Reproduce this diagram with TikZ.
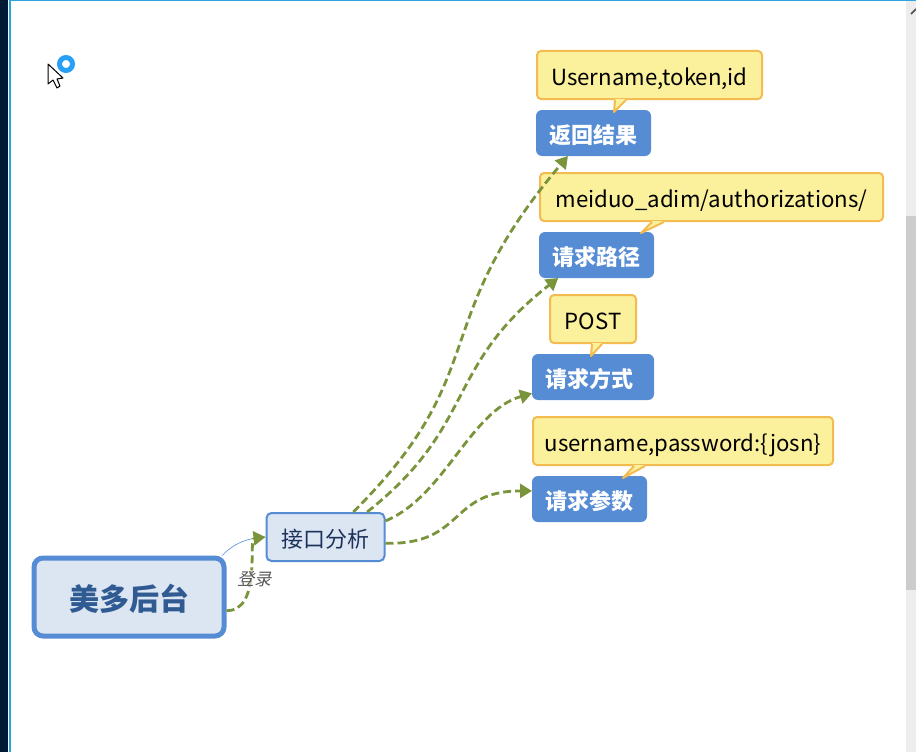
\documentclass[tikz,border=0pt]{standalone}
\usepackage{fontspec}
\usepackage{tikz}
\usetikzlibrary{
    positioning,
    arrows.meta,
    calc
}
\setmainfont{Noto Sans CJK SC}
\newfontfamily\cjk{Noto Sans CJK SC}
\newfontfamily\cjkslant[FakeSlant=0.25]{Noto Sans CJK SC}
\definecolor{mapBlue}{RGB}{86, 140, 212}
\definecolor{mapPale}{RGB}{220, 230, 243}
\definecolor{mapInk}{RGB}{47, 90, 146}
\definecolor{mapDark}{RGB}{28, 50, 90}
\definecolor{linkGreen}{RGB}{122, 148, 60}
\definecolor{noteFill}{RGB}{251, 240, 155}
\definecolor{noteLine}{RGB}{243, 187, 80}
\definecolor{winBlue}{RGB}{42, 166, 224}
\definecolor{winDark}{RGB}{0, 26, 51}
\definecolor{busyBlue}{RGB}{40, 160, 245}
\tikzset{
    rootbox/.style={draw=mapBlue, fill=mapPale, line width=5pt, rounded corners=9pt, minimum width=190pt, minimum height=78pt, inner sep=0pt, outer sep=2.5pt, text=mapInk, text height=27pt, text depth=0pt, font=\cjk\fontsize{30}{34}\selectfont\bfseries},
    apibox/.style={draw=mapBlue, fill=mapPale, line width=2pt, rounded corners=5pt, minimum width=118pt, minimum height=48pt, inner sep=0pt, outer sep=1pt, text=mapDark, text height=21pt, text depth=0pt, font=\cjk\fontsize{22}{26}\selectfont},
    leafbox/.style={fill=mapBlue, rounded corners=6pt, minimum height=46pt, inner sep=0pt, outer sep=0pt, text=white, text height=21.5pt, text depth=0pt, font=\cjk\fontsize{22}{26}\selectfont\bfseries},
    notebox/.style={draw=noteLine, fill=noteFill, line width=2pt, rounded corners=4pt, minimum height=48pt, inner sep=0pt, text=black, text height=20pt, text depth=0pt, font=\fontsize{22.2}{26}\selectfont},
    link/.style={-{Triangle[length=12pt,width=14pt]}, linkGreen, line width=2.8pt, dash pattern=on 8pt off 4pt}
}
\begin{document}
\begin{tikzpicture}[x=1pt,y=-1pt]
    \useasboundingbox (0,0) rectangle (916,752);
    % window frame
    \fill[winDark] (0,0) rectangle (8,752);
    \fill[winBlue] (9,0) rectangle (11,752);
    \fill[winBlue] (9,0) rectangle (916,1.5);
    \fill[black!7] (906,1.5) rectangle (916,752);
    \fill[black!20] (906,216) rectangle (916,590);
    \draw[black!70, line width=1.5pt] (911,14) -- (916,9);

    % busy cursor
    \draw[fill=white, line width=1pt, draw=black, line join=round] (48,64) -- (48,84) -- (53,80) -- (57,88) -- (60,86) -- (57,79) -- (63,78) -- cycle;
    \draw[line width=5pt, busyBlue] (66,64) circle (6.5);

    \node[rootbox] (root) at (129,597) {美多后台};
    \node[apibox] (api) at (325.5,537) {接口分析};

    \node[leafbox, minimum width=115pt] (result) at (593.5,133) {返回结果};
    \node[leafbox, minimum width=115pt] (path) at (596.5,255) {请求路径};
    \node[leafbox, minimum width=122pt] (method) at (593,377) {请求方式\hspace{8pt}\null};
    \node[leafbox, minimum width=115pt] (param) at (589.5,499) {请求参数};

    \node[notebox, minimum width=225pt] (noteResult) at (649.5,75) {Username,token,id};
    \node[notebox, minimum width=343pt] (notePath) at (711.5,197) {meiduo\_adim/authorizations/};
    \node[notebox, minimum width=86pt] (noteMethod) at (593,319) {POST};
    \node[notebox, minimum width=300pt] (noteParam) at (683,441) {username,password:\{josn\}};

    % callout tails: offsets from the lower left corner of each note
    \foreach \nm/\ax/\bx/\tx/\ty in {noteResult/79/90/78/12, notePath/113/125/102/11, noteMethod/43/53/42/12, noteParam/102/113/91/12}{
        \fill[noteFill] ($(\nm.south west)+(\ax,-1)$) -- ($(\nm.south west)+(\tx,\ty)$) -- ($(\nm.south west)+(\bx,-1)$) -- cycle;
        \draw[noteLine, line width=2pt, line join=round] ($(\nm.south west)+(\ax,0)$) -- ($(\nm.south west)+(\tx,\ty)$) -- ($(\nm.south west)+(\bx,0)$);
    }

    % links
    \draw[mapBlue, line width=0.6pt] (root.24.5) .. controls (232,545) and (245,538) .. (api.west);
    \draw[link] (root.-8) .. controls (262,611) and (248,539) .. (api.west);
    \node[text=black!65, font=\cjkslant\fontsize{17}{19}\selectfont, inner sep=1pt, fill=white, fill opacity=0.6, text opacity=1] (login) at (254,579) {登录};
    \draw[link] (api.42) .. controls (495,371) and (425,325) .. (result.222);
    \draw[link] (api.31) .. controls (477,425) and (444,367) .. (path.211);
    \draw[link] (api.15) .. controls (445,496) and (470,411) .. (method.195);
    \draw[link] (api.-6) .. controls (465,545) and (448,491) .. (param.172);
\end{tikzpicture}
\end{document}
